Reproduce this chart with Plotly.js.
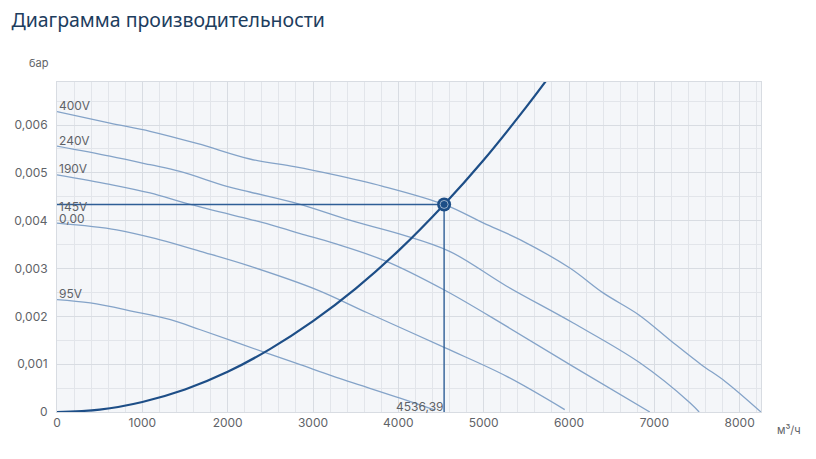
<!DOCTYPE html>
<html>
<head>
<meta charset="utf-8">
<script src="https://cdn.plot.ly/plotly-3.0.1.min.js"></script>
<style>
  html, body { margin: 0; padding: 0; background: #fff; }
  #chart { width: 816px; height: 459px; }
</style>
</head>
<body>
<div id="chart"></div>
<script>
// расход, м³/ч  /  давление, бар
let x400 = [0, 620, 1090, 1650, 2260, 2780, 3200, 3820, 4536, 5000, 5430, 6010, 6400, 6820, 7200, 7550, 7830, 8250];
let y400 = [0.00628, 0.00604, 0.00587, 0.00561, 0.00529, 0.00513, 0.00498, 0.00472, 0.00434, 0.00395, 0.00360, 0.00301, 0.00249, 0.00203, 0.00148, 0.00099, 0.00064, 0];

let x240 = [0, 620, 1090, 1440, 1990, 2260, 2830, 3430, 4020, 4600, 5270, 6050, 6830, 7420, 7525];
let y240 = [0.00556, 0.00535, 0.00517, 0.00503, 0.00472, 0.00460, 0.00435, 0.00401, 0.00372, 0.00336, 0.00263, 0.00186, 0.00103, 0.00019, 0];

let x190 = [0, 620, 1090, 1560, 2260, 2460, 2850, 3240, 3860, 4550, 5270, 6050, 6947];
let y190 = [0.00496, 0.00476, 0.00458, 0.00434, 0.00403, 0.00394, 0.00373, 0.00353, 0.00315, 0.00254, 0.00179, 0.00095, 0];

let x145 = [0, 700, 1210, 1680, 2260, 3040, 3630, 4550, 5270, 5950];
let y145 = [0.00395, 0.00381, 0.00360, 0.00336, 0.00305, 0.00256, 0.00208, 0.00134, 0.000745, 0.00005];

let x95 = [0, 390, 900, 1330, 1680, 2460, 2850, 3240, 4020, 4430];
let y95 = [0.00235, 0.00228, 0.00210, 0.00193, 0.00172, 0.00123, 0.00099, 0.000745, 0.00029, 0.00004];

// характеристика сети
let xNet = [0, 500, 1000, 1500, 2000, 2500, 3000, 3500, 4000, 4536.39, 5000, 5500, 5800];
let yNet = [0, 0.00005, 0.00021, 0.00047, 0.00084, 0.00132, 0.00190, 0.00258, 0.00337, 0.00434, 0.00527, 0.00638, 0.00709];

// рабочая точка
let opX = 4536.39;
let opY = 0.00434;

let fanNames = ['400V', '240V', '190V', '145V', '95V'];
let fanX = [x400, x240, x190, x145, x95];
let fanY = [y400, y240, y190, y145, y95];

let fanColor = '#84a3c8';
let darkBlue = '#1d4e87';
let txtColor = '#5f6368';

let traces = [];
for (let i = 0; i < fanNames.length; i++) {
  traces.push({
    x: fanX[i], y: fanY[i], name: fanNames[i],
    type: 'scatter', mode: 'lines',
    line: {color: fanColor, width: 1.3, shape: 'spline', smoothing: 1},
    hoverinfo: 'skip'
  });
}
traces.push({
  x: xNet, y: yNet, type: 'scatter', mode: 'lines',
  line: {color: darkBlue, width: 2.2, shape: 'spline', smoothing: 1},
  hoverinfo: 'skip'
});
// линии к рабочей точке
traces.push({
  x: [0, opX], y: [opY, opY], type: 'scatter', mode: 'lines',
  line: {color: '#2e5e96', width: 1.4}, hoverinfo: 'skip'
});
traces.push({
  x: [opX, opX], y: [0, opY], type: 'scatter', mode: 'lines',
  line: {color: '#2e5e96', width: 1.4}, hoverinfo: 'skip'
});
traces.push({
  x: [opX], y: [opY], type: 'scatter', mode: 'markers',
  marker: {size: 14, color: darkBlue}, hoverinfo: 'skip'
});
traces.push({
  x: [opX], y: [opY], type: 'scatter', mode: 'markers',
  marker: {size: 8, color: darkBlue, line: {color: 'rgba(255,255,255,0.55)', width: 1}}, hoverinfo: 'skip'
});

let lblFont = {family: 'Inter, Roboto, sans-serif', size: 12, color: txtColor};
let annotations = [];
let lblShift = [6, 6, 6.5, 17, 6];
for (let i = 0; i < fanNames.length; i++) {
  annotations.push({
    x: 0, y: fanY[i][0], xref: 'x', yref: 'y', text: fanNames[i],
    showarrow: false, xanchor: 'left', yanchor: 'middle', xshift: 0, yshift: lblShift[i],
    font: lblFont
  });
}
annotations.push({
  x: 0, y: opY, xref: 'x', yref: 'y', text: '0,00', showarrow: false,
  xanchor: 'left', yanchor: 'middle', yshift: -14, font: lblFont
});
annotations.push({
  x: opX, y: 0, xref: 'x', yref: 'y', text: '4536,39', showarrow: false,
  xanchor: 'right', yanchor: 'middle', yshift: 6, xshift: 1, font: lblFont
});
annotations.push({
  x: 0, y: 1, xref: 'paper', yref: 'paper', text: 'бар', showarrow: false,
  xanchor: 'center', yanchor: 'middle', xshift: -18, yshift: 19, font: {family: 'Inter, Roboto, sans-serif', size: 11, color: txtColor}
});
annotations.push({
  x: 1, y: 0, xref: 'paper', yref: 'paper', text: 'м³/ч', showarrow: false,
  xanchor: 'center', yanchor: 'middle', xshift: 28, yshift: -18, font: {family: 'Inter, Roboto, sans-serif', size: 11, color: txtColor}
});

let layout = {
  width: 816,
  height: 459,
  showlegend: false,
  separators: ', ',
  paper_bgcolor: '#ffffff',
  plot_bgcolor: '#f4f6f9',
  margin: {l: 57, r: 55, t: 82, b: 47, pad: 0},
  title: {
    text: 'Диаграмма производительности',
    x: 0.014, xref: 'container', xanchor: 'left',
    y: 0.956, yref: 'container', yanchor: 'middle',
    font: {family: '"Noto Sans", "Open Sans", sans-serif', size: 19.5, color: '#1d3d5e'}
  },
  xaxis: {
    range: [0, 8250], dtick: 1000, tick0: 0,
    showgrid: true, gridcolor: '#d8dce2', gridwidth: 1,
    minor: {dtick: 200, showgrid: true, gridcolor: '#e2e5ea', gridwidth: 1},
    zeroline: false, showline: true, mirror: true, linecolor: '#d8dce2', linewidth: 1,
    ticks: '', tickfont: {family: 'Inter, Roboto, sans-serif', size: 12, color: txtColor},
    fixedrange: true
  },
  yaxis: {
    range: [0, 0.0069], dtick: 0.001, tick0: 0,
    showgrid: true, gridcolor: '#d8dce2', gridwidth: 1,
    minor: {dtick: 0.0005, showgrid: true, gridcolor: '#e2e5ea', gridwidth: 1},
    zeroline: false, showline: true, mirror: true, linecolor: '#d8dce2', linewidth: 1,
    ticks: '', ticklabelstandoff: 6, tickfont: {family: 'Inter, Roboto, sans-serif', size: 12, color: txtColor},
    fixedrange: true
  },
  annotations: annotations
};

Plotly.newPlot('chart', traces, layout, {displayModeBar: false, staticPlot: true});
</script>
</body>
</html>
